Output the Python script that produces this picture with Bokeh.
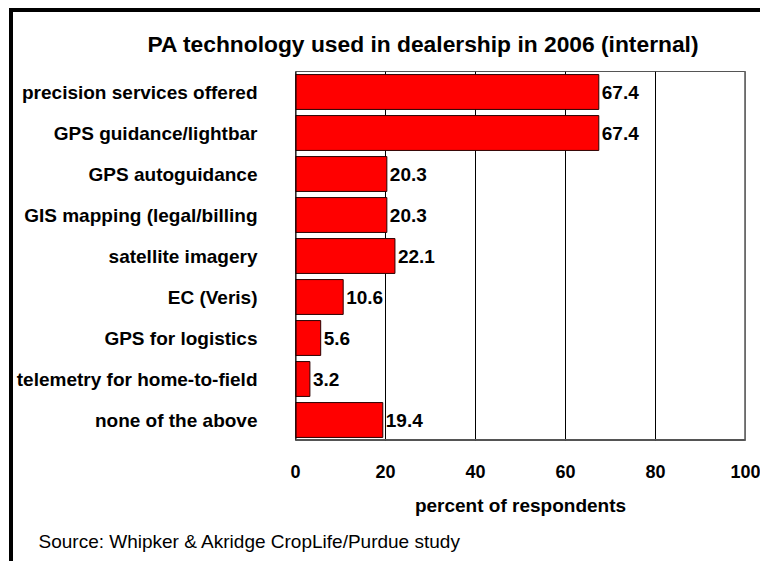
from bokeh.plotting import figure
from bokeh.models import (ColumnDataSource, FactorRange, Range1d, Span, Title,
                          FixedTicker)
from bokeh.core.properties import value
from bokeh.embed import file_html
from bokeh.resources import INLINE

categories = [
    "precision services offered",
    "GPS guidance/lightbar",
    "GPS autoguidance",
    "GIS mapping (legal/billing",
    "satellite imagery",
    "EC (Veris)",
    "GPS for logistics",
    "telemetry for home-to-field",
    "none of the above",
]
percent = [67.4, 67.4, 20.3, 20.3, 22.1, 10.6, 5.6, 3.2, 19.4]
x_ticks = [0, 20, 40, 60, 80, 100]

title_text = "PA technology used in dealership in 2006 (internal)"
x_label = "percent of respondents"
source_text = "Source: Whipker & Akridge CropLife/Purdue study"

FONT = "Liberation Sans"

src = ColumnDataSource(dict(
    cat=categories,
    val=percent,
    lbl=[f"{v:.1f}" for v in percent],
))

p = figure(
    frame_width=450, frame_height=369,
    min_border_left=282, min_border_right=15,
    min_border_top=59, min_border_bottom=120,
    y_range=FactorRange(factors=list(reversed(categories)), range_padding=0),
    x_range=Range1d(0, 100),
    output_backend="svg", toolbar_location=None,
    background_fill_color="white", border_fill_color="white",
)
p.styles = {"border-left": "4px solid black", "border-top": "4px solid black",
            "margin-left": "9px", "margin-top": "8px"}

p.hbar(y="cat", left=0, right="val", height=0.85, source=src,
       fill_color="#FF0000", line_color="#2a0000", line_width=1)

p.text(x="val", y="cat", text="lbl", source=src, x_offset=3,
       text_baseline="middle", text_align="left",
       text_font=value(FONT), text_font_style="bold",
       text_font_size="19px", text_color="black")

# grid
p.ygrid.grid_line_color = None
p.xgrid.grid_line_color = "black"
p.xgrid.grid_line_width = 1
p.xaxis.ticker = FixedTicker(ticks=x_ticks)

# frame outline
p.outline_line_color = "#555555"
p.outline_line_width = 1
p.add_layout(Span(location=0, dimension="height", line_color="black", line_width=2))
p.add_layout(Span(location=100, dimension="height", line_color="#808080", line_width=3))
p.add_layout(Span(location=0, dimension="width", line_color="#555555", line_width=3))

# axes
for ax in (p.xaxis[0], p.yaxis[0]):
    ax.axis_line_color = None
    ax.major_tick_line_color = None
    ax.minor_tick_line_color = None
    ax.major_tick_out = 0
    ax.major_tick_in = 0
    ax.major_label_text_font = FONT
    ax.major_label_text_font_style = "bold"
    ax.major_label_text_color = "black"

p.yaxis.major_label_text_font_size = "19px"
p.yaxis.major_label_standoff = 38
p.xaxis.major_label_text_font_size = "18px"
p.xaxis.major_label_standoff = 24
p.xaxis.axis_label = x_label
p.xaxis.axis_label_text_font = FONT
p.xaxis.axis_label_text_font_style = "bold"
p.xaxis.axis_label_text_font_size = "19px"
p.xaxis.axis_label_text_color = "black"
p.xaxis.axis_label_standoff = 14

# titles
p.title = Title(text=title_text, align="left", offset=-148,
                text_font=FONT, text_font_style="bold",
                text_font_size="22.8px", text_color="black", standoff=29)
p.add_layout(Title(text=source_text, align="left", offset=-257,
                   text_font=FONT, text_font_style="normal",
                   text_font_size="19px", text_color="black", standoff=20),
             "below")

open("out.html", "w").write(file_html(p, INLINE))
